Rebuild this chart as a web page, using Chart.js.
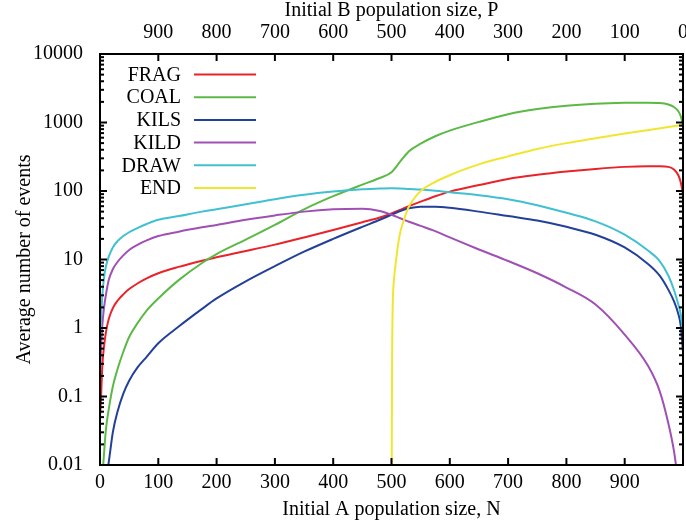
<!DOCTYPE html>
<html><head><meta charset="utf-8">
<script src="https://cdn.jsdelivr.net/npm/chart.js@4.4.1/dist/chart.umd.min.js"></script>
<style>html,body{margin:0;padding:0;background:#fff;}canvas{display:block;}</style>
</head><body>
<canvas id="c" width="686" height="529"></canvas>
<script>
// ---- data ----
const N    = [0, 1, 2, 4, 7, 10, 15, 22, 30, 40, 50, 65, 80, 100, 135, 175, 200, 250, 300, 350, 400, 450, 480, 500, 515, 530, 550, 575, 600, 650, 700, 750, 800, 850, 900, 940, 960, 975, 985, 992, 996, 1000];
const FRAG = [0.05, 0.07, 0.11, 0.28, 0.55, 0.85, 1.35, 1.95, 2.5, 3.1, 3.7, 4.5, 5.3, 6.3, 7.8, 9.6, 10.8, 13.3, 16.5, 21, 27, 35, 41, 47, 53, 60, 70, 84, 98, 122, 150, 172, 192, 210, 225, 230, 230, 225, 205, 170, 135, 90];
const COAL = [0.001, 0.001, 0.002, 0.006, 0.015, 0.032, 0.065, 0.14, 0.25, 0.45, 0.74, 1.2, 1.8, 2.7, 5, 8.9, 12, 19.5, 32, 54, 84, 124, 155, 188, 270, 380, 490, 630, 760, 1020, 1320, 1570, 1760, 1880, 1940, 1950, 1930, 1830, 1670, 1460, 1250, 920];
const KILS = [0.0005, 0.0005, 0.001, 0.002, 0.004, 0.006, 0.011, 0.03, 0.06, 0.11, 0.17, 0.27, 0.38, 0.6, 1.05, 1.9, 2.7, 4.8, 8, 13, 20, 30, 38, 45, 51, 56, 59, 59, 57, 50, 43, 37, 30, 23, 15, 8.6, 5.8, 3.6, 2.4, 1.6, 1.1, 0.45];
const KILD = [0.2, 0.35, 0.52, 1.1, 2.0, 3.0, 5.0, 7.2, 9.2, 11.5, 13.8, 16.5, 19, 22, 25.5, 29.5, 32, 38, 44, 50, 54, 55, 51, 45, 40, 35.5, 31, 26, 21, 14, 9.5, 6.3, 3.9, 2.2, 0.8, 0.28, 0.12, 0.04, 0.015, 0.005, 0.002, 0.001];
const DRAW = [0.6, 1.0, 1.4, 3.0, 5.5, 7.8, 11, 15, 18.5, 22, 25, 29, 33, 38, 43, 50, 54, 64, 76, 88, 98, 106, 109, 110, 109, 107, 105, 101, 96, 87, 76, 62, 48, 36, 23, 13.5, 9.5, 5.8, 3.5, 2.2, 1.6, 0.9];
const END_N = [500, 501, 502, 503, 505, 508, 511, 515, 520, 528, 537, 550, 571, 600, 617, 650, 680, 700, 750, 800, 850, 900, 950, 1000];
const END   = [0.001, 0.3, 2.0, 3.6, 6, 10, 16, 25, 35, 55, 74, 100, 130, 170, 195, 245, 290, 320, 410, 500, 590, 690, 800, 930];

const SERIES_NAMES = ['FRAG', 'COAL', 'KILS', 'KILD', 'DRAW', 'END'];
const COLORS = ['#e8232a', '#5cb946', '#22409a', '#a050b4', '#40c0d0', '#f0e630'];
const X_TICKS = [0, 100, 200, 300, 400, 500, 600, 700, 800, 900, 1000];
const Y_TICKS = [0.01, 0.1, 1, 10, 100, 1000, 10000];
const Y_TICK_LABELS = ['0.01', '0.1', '1', '10', '100', '1000', '10000'];

const pts = (xs, ys) => xs.map((x, i) => ({x: x, y: ys[i]}));
const seriesData = [pts(N, FRAG), pts(N, COAL), pts(N, KILS), pts(N, KILD), pts(N, DRAW), pts(END_N, END)];

Chart.defaults.font.family = "'Liberation Serif', 'DejaVu Serif', serif";
Chart.defaults.font.size = 20;
Chart.defaults.color = '#000';

const frame = {
  id: 'frame',
  afterDatasetsDraw(chart) {
    const {ctx, chartArea: a, scales} = chart;
    ctx.save();
    ctx.strokeStyle = '#000';
    ctx.lineWidth = 2;
    const line = (x1, y1, x2, y2) => { ctx.beginPath(); ctx.moveTo(x1, y1); ctx.lineTo(x2, y2); ctx.stroke(); };
    X_TICKS.forEach(v => {
      const x = scales.x.getPixelForValue(v);
      line(x, a.bottom, x, a.bottom - 7);
      line(x, a.top, x, a.top + 7);
    });
    for (let d = 0; d < Y_TICKS.length; d++) {
      for (let m = 1; m <= 9; m++) {
        if (d === Y_TICKS.length - 1 && m > 1) break;
        const y = scales.y.getPixelForValue(Y_TICKS[d] * m);
        const L = m === 1 ? 7 : 4;
        line(a.left, y, a.left + L, y);
        line(a.right, y, a.right - L, y);
      }
    }
    ctx.strokeRect(a.left, a.top, a.right - a.left, a.bottom - a.top);
    // legend
    ctx.font = "20px 'Liberation Serif', serif";
    ctx.textAlign = 'right';
    ctx.textBaseline = 'middle';
    ctx.fillStyle = '#000';
    chart.data.datasets.forEach((ds, i) => {
      const y = 74.5 + i * 22.7;
      ctx.fillText(ds.label, 181, y + 1);
      ctx.strokeStyle = ds.borderColor;
      ctx.lineWidth = 2;
      line(194, y, 256, y);
    });
    ctx.restore();
  }
};

new Chart(document.getElementById('c'), {
  type: 'line',
  data: {
    datasets: SERIES_NAMES.map((name, i) => ({
      label: name,
      data: seriesData[i],
      borderColor: COLORS[i],
      backgroundColor: COLORS[i],
      borderWidth: 2,
      pointRadius: 0,
      fill: false,
      cubicInterpolationMode: 'monotone',
      order: SERIES_NAMES.length - i,
      clip: 1
    }))
  },
  options: {
    responsive: false,
    animation: false,
    devicePixelRatio: 1,
    layout: {padding: {left: 0, right: 3, top: 0, bottom: 0}},
    plugins: {legend: {display: false}, tooltip: {enabled: false}},
    scales: {
      x: {
        type: 'linear', position: 'bottom', min: 0, max: 1000,
        afterBuildTicks: s => { s.ticks = X_TICKS.map(v => ({value: v})); },
        afterFit: s => { s.height = 64; s.paddingLeft = 0; s.paddingRight = 0; },
        grid: {display: false, drawTicks: false, tickLength: 0},
        border: {display: false},
        ticks: {padding: 6, maxRotation: 0, autoSkip: false, callback: v => v === 1000 ? '' : String(v)},
        title: {display: true, text: 'Initial A population size, N', padding: {top: 0, bottom: 7}}
      },
      x2: {
        axis: 'x', type: 'linear', position: 'top', min: 0, max: 1000,
        afterBuildTicks: s => { s.ticks = X_TICKS.map(v => ({value: v})); },
        afterFit: s => { s.height = 54; s.paddingLeft = 0; s.paddingRight = 0; },
        grid: {display: false, drawTicks: false, tickLength: 0},
        border: {display: false},
        ticks: {padding: 9, maxRotation: 0, autoSkip: false, callback: v => v === 0 ? '' : String(1000 - v)},
        title: {display: true, text: 'Initial B population size, P', font: {size: 20, lineHeight: 1.1}, padding: {top: 0, bottom: 0}}
      },
      y: {
        type: 'logarithmic', position: 'left', min: 0.01, max: 10000,
        afterBuildTicks: s => { s.ticks = Y_TICKS.map(v => ({value: v})); },
        afterFit: s => { s.width = 100; s.paddingTop = 0; s.paddingBottom = 0; },
        grid: {display: false, drawTicks: false, tickLength: 0},
        border: {display: false},
        ticks: {padding: 17, autoSkip: false, callback: v => { const i = Y_TICKS.indexOf(v); return i >= 0 ? Y_TICK_LABELS[i] : ''; }},
        title: {display: true, text: 'Average number of events', padding: {top: 13, bottom: 0}}
      }
    }
  },
  plugins: [frame]
});
</script>
</body></html>
